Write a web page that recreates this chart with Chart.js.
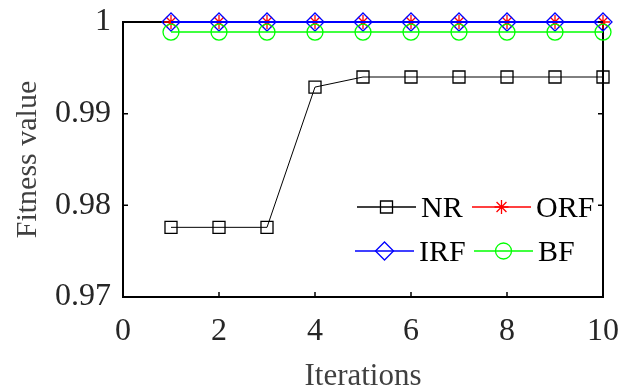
<!DOCTYPE html>
<html>
<head>
<meta charset="utf-8">
<script src="https://cdn.jsdelivr.net/npm/chart.js@4/dist/chart.umd.min.js"></script>
<style>
html,body{margin:0;padding:0;background:#fff;}
#wrap{width:619px;height:389px;position:relative;}
</style>
</head>
<body>
<div id="wrap"><canvas id="c" width="619" height="389"></canvas></div>
<script>
const iterations = [1,2,3,4,5,6,7,8,9,10];
const nrValues  = [0.9776,0.9776,0.9776,0.9929,0.9940,0.9940,0.9940,0.9940,0.9940,0.9940];
const orfValues = [1,1,1,1,1,1,1,1,1,1];
const irfValues = [1,1,1,1,1,1,1,1,1,1];
const bfValues  = [0.9989,0.9989,0.9989,0.9989,0.9989,0.9989,0.9989,0.9989,0.9989,0.9989];
const xTicks = [0,2,4,6,8,10];
const yTicks = [0.97,0.98,0.99,1];
const seriesNames = ['NR','ORF','IRF','BF'];

const FONT = "'Liberation Serif','Times New Roman',serif";
function pts(vals){ return iterations.map((x,i)=>({x:x,y:vals[i]})); }

const styles = [
  {color:'#000000', point:'rect', radius:8.5, width:1, order:4},
  {color:'#ff0000', point:'star', radius:7, width:1.5, order:3},
  {color:'#0000ff', point:'rectRot', radius:9, width:1.8, order:2},
  {color:'#00ff00', point:'circle', radius:8, width:1.5, order:1}
];
const allVals = [nrValues, orfValues, irfValues, bfValues];

const datasets = allVals.map((v,i)=>({
  label: seriesNames[i],
  data: pts(v),
  borderColor: styles[i].color,
  backgroundColor: 'rgba(0,0,0,0)',
  borderWidth: styles[i].width,
  pointStyle: styles[i].point,
  pointRadius: styles[i].radius,
  pointBorderWidth: 1.3,
  pointBorderColor: styles[i].color,
  pointBackgroundColor: 'rgba(0,0,0,0)',
  tension: 0,
  clip: false,
  order: styles[i].order
}));

const frame = {
  id:'frame',
  beforeDatasetsDraw(chart){
    const ctx = chart.ctx, a = chart.chartArea;
    ctx.save();
    ctx.strokeStyle = '#000';
    ctx.lineWidth = 2;
    ctx.strokeRect(a.left, a.top, a.right-a.left, a.bottom-a.top);
    ctx.restore();
  },
  afterDraw(chart){
    const ctx = chart.ctx, a = chart.chartArea;
    const xs = chart.scales.x, ys = chart.scales.y;
    ctx.save();
    ctx.strokeStyle = '#000';
    ctx.lineWidth = 1.5;
    ctx.beginPath();
    xTicks.forEach(t=>{
      const px = xs.getPixelForValue(t);
      ctx.moveTo(px, a.bottom); ctx.lineTo(px, a.bottom-5);
    });
    yTicks.forEach(t=>{
      const py = ys.getPixelForValue(t);
      ctx.moveTo(a.left, py); ctx.lineTo(a.left+5, py);
      ctx.moveTo(a.right, py); ctx.lineTo(a.right-5, py);
    });
    ctx.stroke();

    // legend
    const entries = [
      {i:0, x:357, y:207}, {i:1, x:472, y:207},
      {i:2, x:355, y:251}, {i:3, x:474, y:251}
    ];
    ctx.font = '30px ' + FONT;
    ctx.textBaseline = 'middle';
    ctx.textAlign = 'left';
    entries.forEach(e=>{
      const s = styles[e.i];
      ctx.strokeStyle = s.color;
      ctx.lineWidth = 1.3;
      ctx.beginPath();
      ctx.moveTo(e.x, e.y); ctx.lineTo(e.x+59, e.y);
      ctx.stroke();
      ctx.fillStyle = 'rgba(0,0,0,0)';
      ctx.strokeStyle = s.color;
      ctx.lineWidth = 1.3;
      Chart.helpers.drawPoint(ctx, {pointStyle:s.point, rotation:0, radius:s.radius, borderWidth:1.3}, e.x+29.5, e.y);
      ctx.fillStyle = '#000';
      ctx.fillText(seriesNames[e.i], e.x+64, e.y+2);
    });
    ctx.restore();
  }
};

new Chart(document.getElementById('c'), {
  type:'line',
  data:{datasets:datasets},
  options:{
    responsive:false,
    animation:false,
    devicePixelRatio:1,
    layout:{padding:{top:22, right:16, left:0, bottom:0}},
    plugins:{legend:{display:false}, tooltip:{enabled:false}},
    scales:{
      x:{
        type:'linear', min:0, max:10,
        afterBuildTicks(s){ s.ticks = xTicks.map(v=>({value:v})); },
        afterFit(s){ s.height = 92; s.paddingLeft = 0; s.paddingRight = 0; },
        grid:{display:false, drawTicks:false},
        border:{display:false},
        ticks:{font:{family:FONT, size:32}, color:'#262626', padding:15, maxRotation:0,
               callback:v=>String(v)},
        title:{display:true, text:'Iterations', font:{family:FONT, size:31}, color:'#404040', padding:{top:4,bottom:-6}}
      },
      y:{
        type:'linear', min:0.97, max:1,
        afterBuildTicks(s){ s.ticks = yTicks.map(v=>({value:v})); },
        afterFit(s){ s.width = 123; s.paddingTop = 0; s.paddingBottom = 0; },
        grid:{display:false, drawTicks:false},
        border:{display:false},
        ticks:{font:{family:FONT, size:32}, color:'#262626', padding:12,
               callback:v=>String(Math.round(v*100)/100)},
        title:{display:true, text:'Fitness value', font:{family:FONT, size:30}, color:'#404040', padding:{top:10,bottom:0}}
      }
    }
  },
  plugins:[frame]
});
</script>
</body>
</html>
